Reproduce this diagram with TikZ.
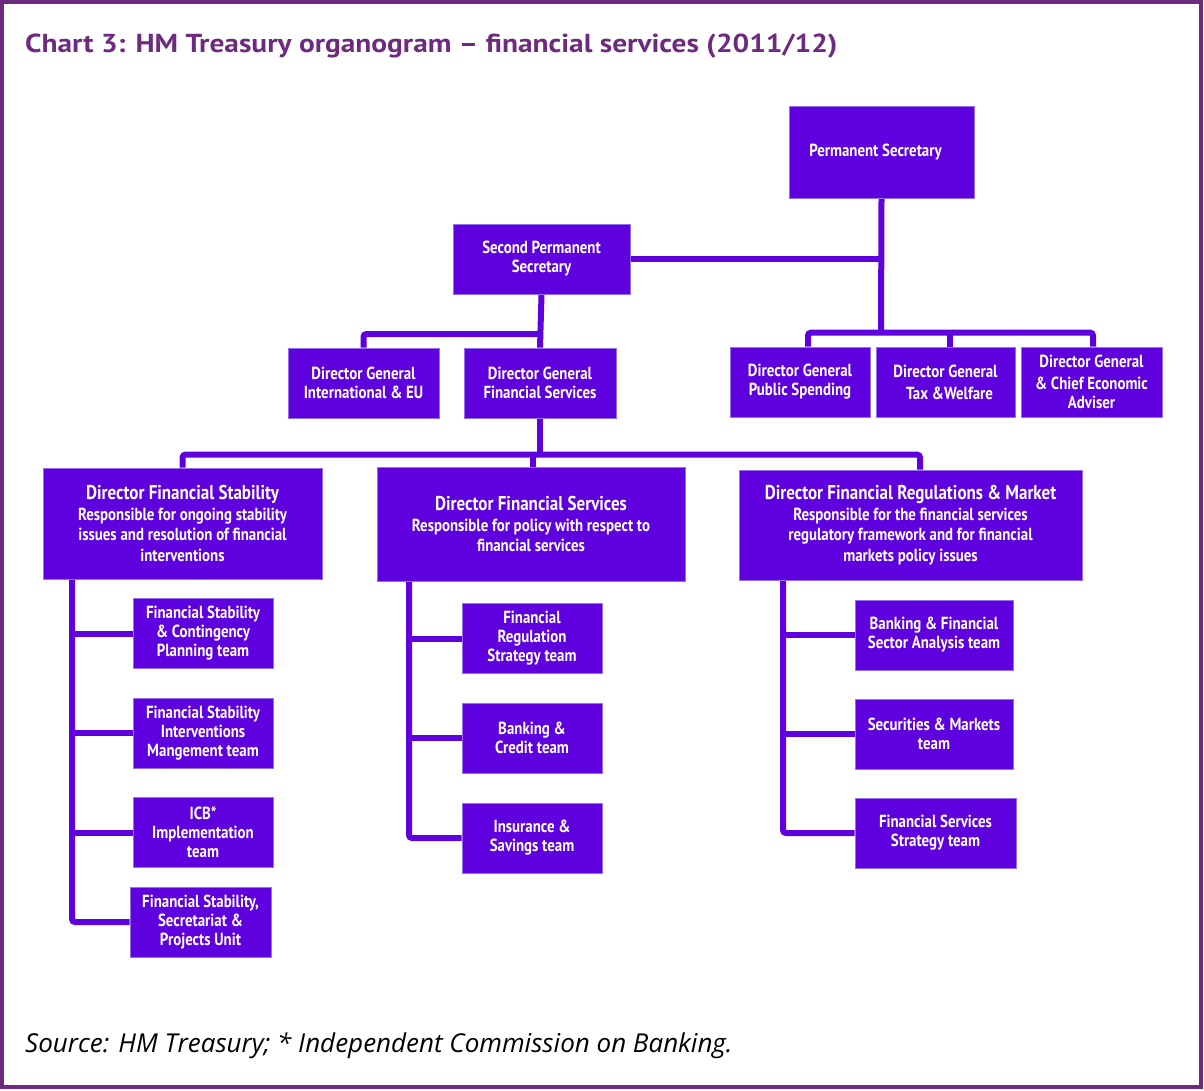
\documentclass[tikz,border=0pt]{standalone}
\usepackage{fontspec}
\setmainfont{PT Sans}
\newfontfamily\boxfont[FakeStretch=0.85]{PT Sans}
\newfontfamily\titlefont[FakeStretch=1.13]{PT Sans}
\newfontfamily\srcfont{Open Sans}
\usetikzlibrary{backgrounds}
\definecolor{boxc}{RGB}{95,0,222}
\definecolor{boxedge}{RGB}{150,110,240}
\definecolor{framec}{RGB}{110,42,126}
\newcommand\dirhead[1]{{\fontsize{20}{23}\selectfont #1}}
\begin{document}
\begin{tikzpicture}[x=1pt,y=-1pt,
  box/.style={fill=boxc, draw=boxedge, line width=0.8pt, inner sep=0pt, align=center, text=white,
    font=\boxfont\bfseries\fontsize{17.5}{19}\selectfont},
  dirbox/.style={box, font=\boxfont\bfseries\fontsize{17.5}{20.5}\selectfont},
  team/.style={box, minimum width=140pt, minimum height=70pt},
  dg/.style={box, minimum height=70pt},
  conn/.style={draw=boxc, line width=6pt, rounded corners=3pt}]
\useasboundingbox (0,0) rectangle (1204,1090);
\draw[framec, line width=3.5pt] (2,2) rectangle (1201,1087);
\node[anchor=base west, text=framec, inner sep=0pt, font=\titlefont\bfseries\fontsize{26}{29}\selectfont] (title) at (25,52)
  {Chart 3: HM Treasury organogram – financial services (2011/12)};
\node[anchor=base west, inner sep=0pt, font=\srcfont\itshape\fontsize{26}{29}\selectfont] (src) at (25,1052)
  {Source: HM Treasury; * Independent Commission on Banking.};

% top levels
\node[box, minimum width=185pt, minimum height=92pt] (ps) at (881.5,152) {Permanent Secretary\hspace*{12pt}};
\node[box, minimum width=177pt, minimum height=70pt] (sps) at (541.5,259) {Second Permanent\\Secretary};
\node[dg, minimum width=140pt] (dgps) at (800,382) {Director General\\Public Spending};
\node[dg, minimum width=139pt] (dgtw) at (945.5,382) {Director General\\[3pt]\hspace*{8pt}Tax \&Welfare};
\node[dg, minimum width=141pt] (dgce) at (1091.5,382) {Director General\\[3pt]\& Chief Economic\\Adviser};
\node[dg, minimum width=151pt] (dgie) at (363.5,383) {Director General\\International \& EU};
\node[dg, minimum width=152pt] (dgfs) at (540,383) {Director General\\Financial Services};

% directors
\node[dirbox, minimum width=279pt, minimum height=111pt] (dfst) at (182.5,523.5)
  {\dirhead{Director Financial Stability}\\Responsible for ongoing stability\\issues and resolution of financial\\interventions};
\node[dirbox, minimum width=308pt, minimum height=114pt] (dfse) at (531,524)
  {\dirhead{Director Financial Services}\\Responsible for policy with respect to\\financial services};
\node[dirbox, minimum width=343pt, minimum height=110pt] (dfrm) at (910.5,525)
  {\dirhead{Director Financial Regulations \& Market}\\Responsible for the financial services\\regulatory framework and for financial\\markets policy issues};

% teams
\node[team] (a1) at (203,633.5) {Financial Stability\\\& Contingency\\Planning team};
\node[team] (a2) at (203,733) {Financial Stability\\Interventions\\Mangement team};
\node[team] (a3) at (203,832.5) {ICB*\\Implementation\\team};
\node[team, minimum width=141pt] (a4) at (200.5,922) {Financial Stability,\\Secretariat \&\\Projects Unit};
\node[team] (b1) at (532,638.5) {Financial\\Regulation\\Strategy team};
\node[team] (b2) at (532,738) {Banking \&\\Credit team};
\node[team] (b3) at (532,838) {Insurance \&\\Savings team};
\node[team, minimum width=158pt] (c1) at (934,635) {Banking \& Financial\\Sector Analysis team};
\node[team, minimum width=158pt] (c2) at (934,734) {Securities \& Markets\\team};
\node[team, minimum width=161pt] (c3) at (935.5,833) {Financial Services\\Strategy team};

\coordinate (jr) at (881,333);
\coordinate (jl) at (541,334);
\coordinate (jb) at (540,455);
\coordinate (la) at (72,579);
\coordinate (lb) at (409,581);
\coordinate (lc) at (783,580);

\begin{scope}[on background layer]
\draw[conn] (ps.south) -- (jr);
\draw[conn] (sps.east) -- (sps.east -| jr);
\draw[conn] ([xshift=8pt]dgps.north) -- ++(0,-14) -| ([xshift=1.5pt]dgce.north);
\draw[conn] ([xshift=4.5pt]dgtw.north) -- ++(0,-14);
\draw[conn] (sps.south) -- (dgfs.north);
\draw[conn] (dgie.north) |- (jl);
\draw[conn] (dgfs.south) -- (jb);
\draw[conn] (dfst.north) -- ++(0,-13) -| ([xshift=9.5pt]dfrm.north);
\draw[conn] ([xshift=2pt]dfse.north) -- ++(0,-12);
\draw[conn] (la) |- (a4.west);
\draw[conn] (a1.west) -- (a1.west -| la);
\draw[conn] (a2.west) -- (a2.west -| la);
\draw[conn] (a3.west) -- (a3.west -| la);
\draw[conn] (lb) |- (b3.west);
\draw[conn] (b1.west) -- (b1.west -| lb);
\draw[conn] (b2.west) -- (b2.west -| lb);
\draw[conn] (lc) |- (c3.west);
\draw[conn] (c1.west) -- (c1.west -| lc);
\draw[conn] (c2.west) -- (c2.west -| lc);
\end{scope}
\end{tikzpicture}
\end{document}
